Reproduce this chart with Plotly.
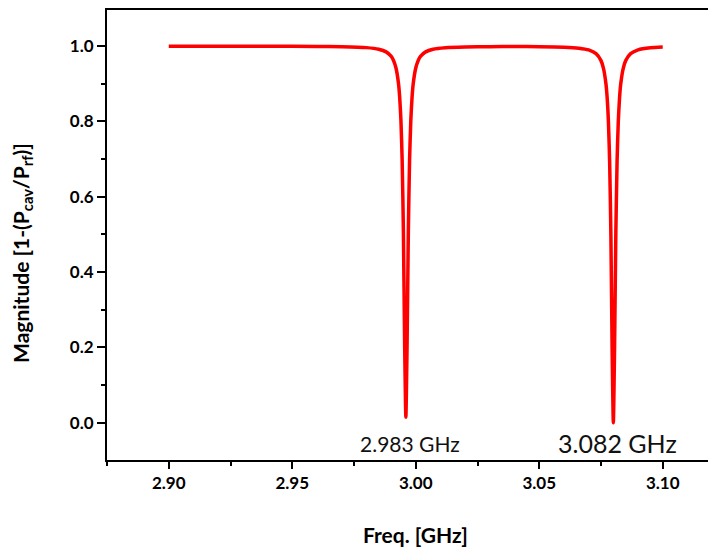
import plotly.graph_objects as go

# Frequency (GHz) and magnitude
freq = [2.900, 2.920, 2.940, 2.960, 2.970, 2.980, 2.985, 2.988, 2.990, 2.991,
        2.992, 2.993, 2.9935, 2.994, 2.9945, 2.995, 2.9955, 2.996, 2.9965, 2.997,
        2.9975, 2.998, 2.9985, 2.999, 3.000, 3.001, 3.002, 3.004, 3.007, 3.012,
        3.020, 3.030, 3.040, 3.050, 3.060, 3.066, 3.070, 3.073, 3.075, 3.076,
        3.077, 3.0775, 3.078, 3.0785, 3.079, 3.0795, 3.080, 3.0805, 3.081, 3.0815,
        3.082, 3.0825, 3.083, 3.084, 3.085, 3.087, 3.090, 3.095, 3.100]
magnitude = [1.000, 0.9998, 0.9997, 0.9992, 0.9984, 0.9961, 0.9919, 0.9848, 0.9734, 0.9621,
             0.942, 0.9015, 0.864, 0.803, 0.697, 0.5075, 0.212, 0.015, 0.212, 0.5075,
             0.697, 0.803, 0.864, 0.9015, 0.942, 0.9621, 0.9734, 0.9848, 0.9919, 0.9960,
             0.9980, 0.9987, 0.9989, 0.9986, 0.9973, 0.9947, 0.9899, 0.980, 0.9615, 0.941,
             0.900, 0.862, 0.800, 0.692, 0.500, 0.200, 0.000, 0.200, 0.500, 0.692,
             0.800, 0.862, 0.900, 0.941, 0.9615, 0.980, 0.9901, 0.9956, 0.9975]

peak_labels = ["2.983 GHz", "3.082 GHz"]
peak_label_x = [2.9976, 3.0818]
peak_label_y = [-0.054, -0.054]
peak_label_size = [21, 25]

FONT = "Lato"

# page has an 8px body margin; the plot area spans page x 107..716, y 8..460
PX0, PY0, PW, PH = 107, 8, 609, 452

fig = go.Figure()
fig.add_trace(go.Scatter(x=freq, y=magnitude, mode="lines",
                         line=dict(color="#ff0000", width=3.5, shape="spline", smoothing=0.6),
                         showlegend=False, hoverinfo="skip"))

for t, x, y, s in zip(peak_labels, peak_label_x, peak_label_y, peak_label_size):
    fig.add_annotation(x=x, y=y, xref="x", yref="y", text=t, showarrow=False,
                       font=dict(family=FONT, size=s, color="#111111"),
                       xanchor="center", yanchor="middle")

fig.add_annotation(x=(415 - PX0) / PW, y=(PY0 + PH - 535) / PH, xref="paper", yref="paper",
                   text="Freq. [GHz]", showarrow=False,
                   font=dict(family=FONT, size=21, color="#000000", weight="bold"),
                   xanchor="center", yanchor="middle")
fig.add_annotation(x=(22 - PX0) / PW, y=(PY0 + PH - 252) / PH, xref="paper", yref="paper",
                   text="Magnitude [1-(P<sub>cav</sub>/P<sub>rf</sub>)]", showarrow=False,
                   textangle=-90,
                   font=dict(family=FONT, size=21, color="#000000", weight="bold"),
                   xanchor="center", yanchor="middle")

fig.update_layout(
    width=708, height=542,
    margin=dict(l=99, r=0, t=0, b=90),
    paper_bgcolor="white", plot_bgcolor="white",
    xaxis=dict(range=[2.875, 2.875 + 609 / 2470], dtick=0.05, tick0=2.9, tickformat=".2f",
               showgrid=False, zeroline=False,
               showline=True, linecolor="black", linewidth=2, mirror=True,
               ticks="outside", ticklen=7, tickwidth=1.5, tickcolor="black",
               minor=dict(dtick=0.025, ticks="outside", ticklen=4, tickwidth=1.5, tickcolor="black"),
               tickfont=dict(family=FONT, size=17, color="black", weight="bold")),
    yaxis=dict(range=[-0.099, 1.096], dtick=0.2, tick0=0, tickformat=".1f",
               showgrid=False, zeroline=False,
               showline=True, linecolor="black", linewidth=2, mirror=False,
               ticks="outside", ticklen=8, tickwidth=1.5, tickcolor="black",
               minor=dict(dtick=0.1, ticks="outside", ticklen=4, tickwidth=1.5, tickcolor="black"),
               tickfont=dict(family=FONT, size=17, color="black", weight="bold")),
)

fig.write_html("out.html")
